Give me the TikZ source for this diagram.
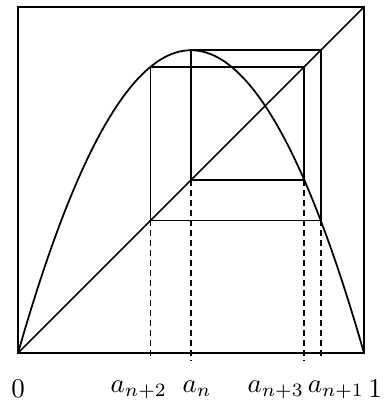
\documentclass[tikz,border=0pt]{standalone}
\usepackage{amsmath}
\usetikzlibrary{arrows.meta,positioning,calc}
\begin{document}
\begin{tikzpicture}[
  x=4.5cm, y=4.5cm,
  frame/.style={line width=0.6pt},
  curve/.style={line width=0.65pt},
  web/.style={line width=0.65pt, line join=miter},
  guide/.style={line width=0.6pt, dash pattern=on 2.2pt off 1.5pt},
  lbl/.style={below}
]
  \useasboundingbox (-0.0522,-0.1391) rectangle (1.0609,1.0202);

  %% Frame and diagonal
  \coordinate (o) at (0,0);
  \coordinate (tr) at (1,1);
  \coordinate (foot) at (0,-0.0203);
  \draw[frame] (o) rectangle (tr);
  \draw[frame] (o) -- (tr);

  %% Logistic map
  \draw[curve] plot[domain=0:1, samples=120, smooth] (\x, {3.5*\x*(1-\x)});

  %% Cobweb
  \coordinate (w0) at (0.5,0.5);
  \coordinate (w1) at (0.5,0.875);
  \coordinate (w2) at (0.875,0.875);
  \coordinate (w3) at (0.875,0.38281);
  \coordinate (w4) at (0.38281,0.38281);
  \coordinate (w5) at (0.38281,0.82693);
  \coordinate (w6) at (0.82693,0.82693);
  \coordinate (w7) at (0.82693,0.5);
  \draw[web] (w0) -- (w1) -- (w2) -- (w3) -- (w4) -- (w5) -- (w6) -- (w7) -- cycle;

  %% Guides down to the axis
  \foreach \p in {w0, w3, w4, w7}
    \draw[guide] (\p) -- (\p |- foot);

  %% Labels
  \node[lbl] (l0)  at (0,-0.052)      {$0$};
  \node[lbl] (ln2) at (0.3493,-0.052) {$a_{n+2}$};
  \node[lbl] (ln)  at (0.5173,-0.052) {$a_n$};
  \node[lbl] (ln3) at (0.7450,-0.052) {$a_{n+3}$};
  \node[lbl] (ln1) at (0.9190,-0.052) {$a_{n+1}$};
  \node[lbl] (l1)  at (1.0320,-0.052) {$1$};
\end{tikzpicture}
\end{document}
